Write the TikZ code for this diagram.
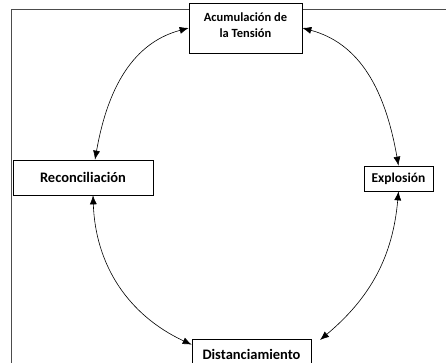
\documentclass[tikz,border=0pt]{standalone}
\usepackage{fontspec}
\setmainfont{Carlito}
\usetikzlibrary{arrows.meta}
\tikzset{
  stagebox/.style={draw=black, line width=0.7pt, fill=white, align=center, inner sep=0pt, font=\bfseries\fontsize{14.5}{16}\selectfont},
  cyclearrow/.style={line width=0.6pt, {Latex[length=9pt,width=7pt]}-{Latex[length=9pt,width=7pt]}},
  framebar/.style={line width=1.5pt, draw=black!70}
}
\begin{document}
\begin{tikzpicture}[x=1pt,y=1pt]
\useasboundingbox (0,0) rectangle (446,362);
\fill[white] (0,0) rectangle (446,362);
\draw[framebar] (11.5,-5) -- (11.5,352.5) -- (450,352.5);
\node[stagebox, minimum width=113pt, minimum height=50pt, font=\bfseries\fontsize{12.5}{16}\selectfont] (top) at (245.5,334) {Acumulación de\\la Tensión\\[-10pt]};
\node[stagebox, minimum width=140pt, minimum height=35pt] (rec) at (83,184.5) {Reconciliación};
\node[stagebox, minimum width=69pt, minimum height=25pt, font=\bfseries\fontsize{13.5}{16}\selectfont] (exp) at (398.5,183.5) {Explosión};
\node[stagebox, minimum width=119pt, minimum height=30pt] (dis) at (251.5,8) {Distanciamiento};
\coordinate (disne) at (320,22);
\draw[cyclearrow] ([xshift=12pt]rec.north) to[out=80, in=195] (top.west);
\draw[cyclearrow] (top.east) to[out=-15, in=100] (exp.north);
\draw[cyclearrow] ([xshift=10pt]rec.south) to[out=-88, in=155] ([yshift=-6pt]dis.north west);
\draw[cyclearrow] (exp.south) to[out=-95, in=40] (disne);
\end{tikzpicture}
\end{document}
